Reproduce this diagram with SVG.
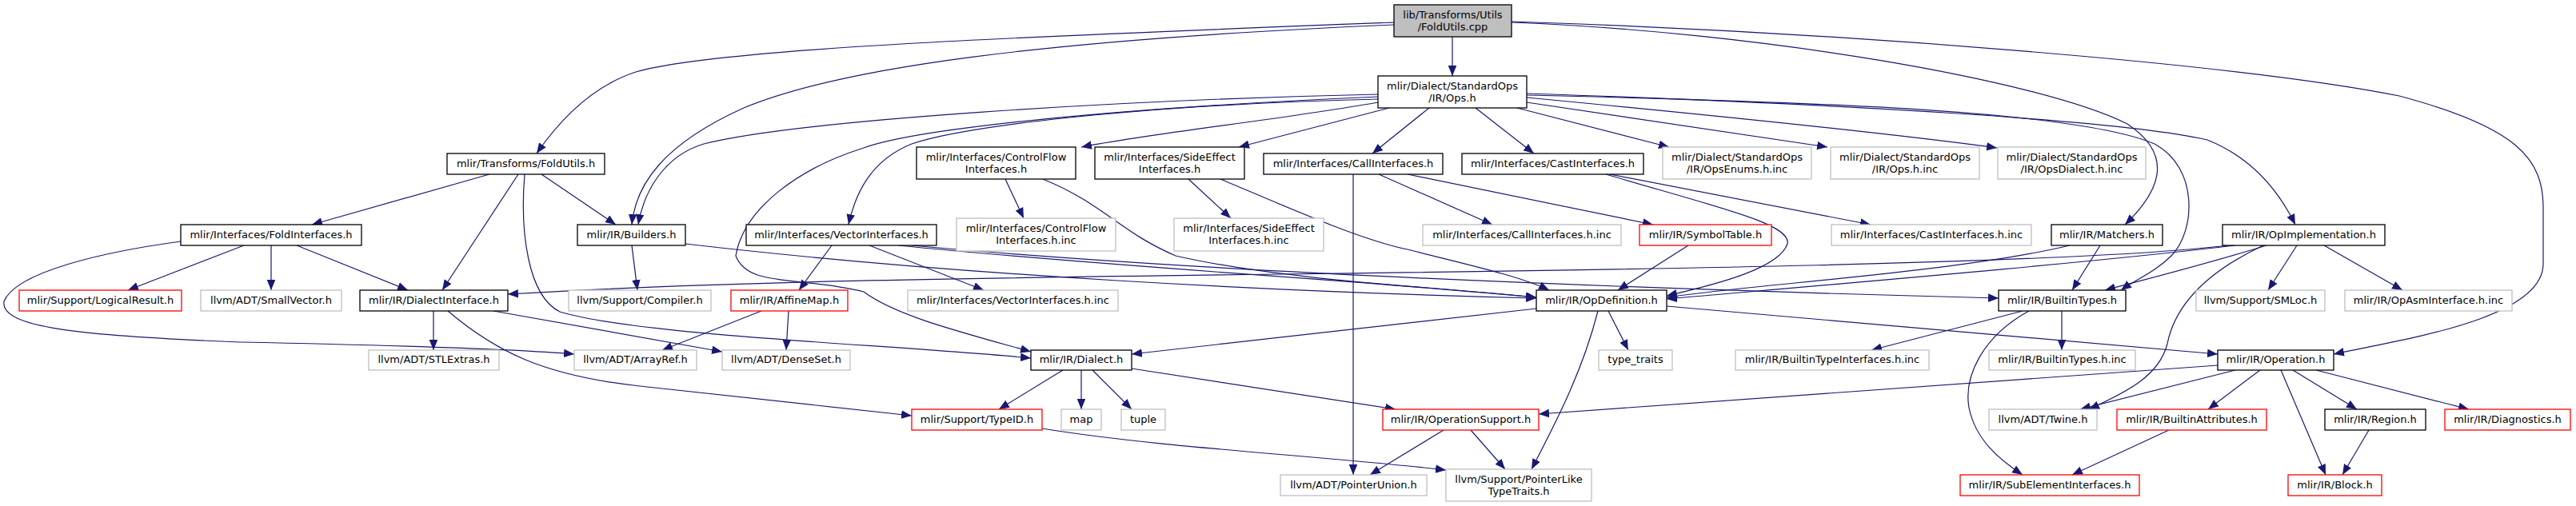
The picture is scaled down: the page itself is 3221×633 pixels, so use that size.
<svg xmlns="http://www.w3.org/2000/svg" width="3221" height="633" viewBox="0 0 3221 633">
<defs>
<marker id="a" markerWidth="14" markerHeight="11" refX="13" refY="5.3" orient="auto" markerUnits="userSpaceOnUse"><path d="M0,0L13,5.3L0,10.6z" fill="#191970"/></marker>
<style>
.node rect{fill:#fff;stroke:#000;stroke-width:1.3}
.node.g rect{stroke:#bfbfbf}
.node.r rect{stroke:#ff0000}
.node.root rect{fill:#bfbfbf}
.node text{font-family:'DejaVu Sans',sans-serif;font-size:13px;text-anchor:middle;dominant-baseline:central;fill:#000}
#edges path{fill:none;stroke:#191970;stroke-width:1.2;marker-end:url(#a)}
</style>
</defs>
<rect width="3221" height="633" fill="#fff"/>
<g id="edges">
<path d="M1816,46L1816,95"/>
<path d="M1743,28C1300,45 900,60 795,90C740,108 700,150 671,192"/>
<path d="M1743,31C1300,50 1050,85 930,135C830,180 795,230 790,281"/>
<path d="M1723,118C1400,125 1000,150 880,180C830,195 805,240 798,281"/>
<path d="M1723,121C1400,135 1150,160 1080,185C1000,210 930,260 920,320C935,360 1000,345 1080,365C1120,395 1200,415 1289,440"/>
<path d="M1723,124C1400,132 1200,160 1140,180C1090,200 1070,240 1061,281"/>
<path d="M1723,128C1600,150 1450,165 1352,184"/>
<path d="M1737,135L1549,184"/>
<path d="M1787,135L1716,192"/>
<path d="M1845,135L1918,192"/>
<path d="M1897,135L2087,184"/>
<path d="M1909,128L2285,184"/>
<path d="M1909,122C2150,145 2350,165 2497,185"/>
<path d="M1909,117C2300,130 2650,150 2760,175C2810,195 2845,230 2870,281"/>
<path d="M1909,119C2300,128 2600,140 2694,180C2750,210 2745,290 2715,320C2695,340 2670,350 2652,363"/>
<path d="M1890,28C2200,40 2550,100 2660,155C2720,195 2700,240 2657,281"/>
<path d="M1890,27C2300,40 2800,80 3000,120C3150,160 3180,200 3180,260L3180,330C3180,400 3000,425 2918,443"/>
<path d="M612,218L390,281"/>
<path d="M677,218L770,281"/>
<path d="M648,218L553,363"/>
<path d="M656,218C650,290 660,370 700,390C800,420 1100,430 1289,448"/>
<path d="M305,307L160,363"/>
<path d="M339,307L339,363"/>
<path d="M371,307L510,363"/>
<path d="M226,302C130,315 20,340 5,377C0,410 100,420 300,428C500,432 650,437 718,443"/>
<path d="M790,307L797,363"/>
<path d="M857,305C1200,345 1600,365 1921,373"/>
<path d="M1040,307L999,363"/>
<path d="M1087,307L1230,363"/>
<path d="M1123,307C1400,335 1700,350 1921,372"/>
<path d="M1140,307C1500,340 2000,360 2499,373"/>
<path d="M1257,224L1280,273"/>
<path d="M1304,224C1380,255 1400,290 1470,320C1600,350 1800,360 1921,372"/>
<path d="M1486,224L1539,273"/>
<path d="M1526,224C1600,255 1700,300 1760,312C1830,330 1900,345 1937,363"/>
<path d="M1724,218L1866,281"/>
<path d="M1760,218L2067,281"/>
<path d="M1692,218L1692,594"/>
<path d="M2013,218L2339,281"/>
<path d="M2008,218C2150,260 2240,280 2235,305C2225,335 2150,355 2084,370"/>
<path d="M2111,307L2023,363"/>
<path d="M2588,307C2450,340 2200,355 2084,372"/>
<path d="M2626,307L2591,363"/>
<path d="M2795,307C2600,330 2300,355 2084,374"/>
<path d="M2785,307C2600,330 2000,338 1600,343C1200,348 900,352 635,368"/>
<path d="M2834,307C2760,330 2700,345 2632,363"/>
<path d="M2830,307C2760,340 2720,380 2710,430C2700,470 2660,490 2612,512"/>
<path d="M2872,307L2836,363"/>
<path d="M2906,307L3004,363"/>
<path d="M952,389L828,438"/>
<path d="M986,389L983,438"/>
<path d="M542,389L542,438"/>
<path d="M560,389C620,440 680,470 800,483C950,500 1050,510 1140,520"/>
<path d="M617,389L903,440"/>
<path d="M1921,386L1415,443"/>
<path d="M2084,383L2773,443"/>
<path d="M2011,389L2036,438"/>
<path d="M1998,389C1980,460 1950,520 1915,587"/>
<path d="M2578,389L2578,438"/>
<path d="M2529,389L2340,438"/>
<path d="M2537,389C2480,420 2455,470 2462,510C2470,550 2500,575 2529,594"/>
<path d="M1329,463L1249,512"/>
<path d="M1352,463L1352,512"/>
<path d="M1366,463L1415,512"/>
<path d="M1415,461L1745,512"/>
<path d="M1303,536C1450,560 1650,570 1808,588"/>
<path d="M1805,538L1713,594"/>
<path d="M1839,538L1882,587"/>
<path d="M2773,457L1924,518"/>
<path d="M2795,463L2601,512"/>
<path d="M2826,463L2761,512"/>
<path d="M2852,463L2908,594"/>
<path d="M2867,463L2947,512"/>
<path d="M2896,463L3087,512"/>
<path d="M2712,538L2591,594"/>
<path d="M2962,538L2929,594"/>
</g>
<g id="n_root" class="node root"><rect x="1743" y="6" width="147" height="40"/><text x="1816.5" y="18">lib/Transforms/Utils</text><text x="1816.5" y="33">/FoldUtils.cpp</text></g>
<g id="n_ops" class="node"><rect x="1723" y="95" width="186" height="40"/><text x="1816" y="107">mlir/Dialect/StandardOps</text><text x="1816" y="122">/IR/Ops.h</text></g>
<g id="n_foldutils" class="node"><rect x="559" y="192" width="197" height="26"/><text x="657.5" y="204">mlir/Transforms/FoldUtils.h</text></g>
<g id="n_callif" class="node"><rect x="1580" y="192" width="224" height="26"/><text x="1692" y="204">mlir/Interfaces/CallInterfaces.h</text></g>
<g id="n_castif" class="node"><rect x="1828" y="192" width="227" height="26"/><text x="1941.5" y="204">mlir/Interfaces/CastInterfaces.h</text></g>
<g id="n_cflow" class="node"><rect x="1146" y="184" width="199" height="40"/><text x="1245.5" y="196">mlir/Interfaces/ControlFlow</text><text x="1245.5" y="211">Interfaces.h</text></g>
<g id="n_sideeff" class="node"><rect x="1369" y="184" width="187" height="40"/><text x="1462.5" y="196">mlir/Interfaces/SideEffect</text><text x="1462.5" y="211">Interfaces.h</text></g>
<g id="n_opsenums" class="node g"><rect x="2079" y="184" width="186" height="40"/><text x="2172" y="196">mlir/Dialect/StandardOps</text><text x="2172" y="211">/IR/OpsEnums.h.inc</text></g>
<g id="n_opsinc" class="node g"><rect x="2289" y="184" width="186" height="40"/><text x="2382" y="196">mlir/Dialect/StandardOps</text><text x="2382" y="211">/IR/Ops.h.inc</text></g>
<g id="n_opsdialect" class="node g"><rect x="2498" y="184" width="185" height="40"/><text x="2590.5" y="196">mlir/Dialect/StandardOps</text><text x="2590.5" y="211">/IR/OpsDialect.h.inc</text></g>
<g id="n_foldif" class="node"><rect x="226" y="281" width="226" height="26"/><text x="339" y="293">mlir/Interfaces/FoldInterfaces.h</text></g>
<g id="n_builders" class="node"><rect x="722" y="281" width="135" height="26"/><text x="789.5" y="293">mlir/IR/Builders.h</text></g>
<g id="n_vectorif" class="node"><rect x="933" y="281" width="238" height="26"/><text x="1052" y="293">mlir/Interfaces/VectorInterfaces.h</text></g>
<g id="n_cflowinc" class="node g"><rect x="1196" y="273" width="199" height="41"/><text x="1295.5" y="285.5">mlir/Interfaces/ControlFlow</text><text x="1295.5" y="300.5">Interfaces.h.inc</text></g>
<g id="n_sideeffinc" class="node g"><rect x="1468" y="273" width="187" height="41"/><text x="1561.5" y="285.5">mlir/Interfaces/SideEffect</text><text x="1561.5" y="300.5">Interfaces.h.inc</text></g>
<g id="n_callifinc" class="node g"><rect x="1779" y="281" width="248" height="26"/><text x="1903" y="293">mlir/Interfaces/CallInterfaces.h.inc</text></g>
<g id="n_symtab" class="node r"><rect x="2050" y="281" width="165" height="26"/><text x="2132.5" y="293">mlir/IR/SymbolTable.h</text></g>
<g id="n_castifinc" class="node g"><rect x="2290" y="281" width="250" height="26"/><text x="2415" y="293">mlir/Interfaces/CastInterfaces.h.inc</text></g>
<g id="n_matchers" class="node"><rect x="2565" y="281" width="139" height="26"/><text x="2634.5" y="293">mlir/IR/Matchers.h</text></g>
<g id="n_opimpl" class="node"><rect x="2779" y="281" width="203" height="26"/><text x="2880.5" y="293">mlir/IR/OpImplementation.h</text></g>
<g id="n_logres" class="node r"><rect x="24" y="363" width="203" height="26"/><text x="125.5" y="375">mlir/Support/LogicalResult.h</text></g>
<g id="n_smallvec" class="node g"><rect x="251" y="363" width="176" height="26"/><text x="339" y="375">llvm/ADT/SmallVector.h</text></g>
<g id="n_dialif" class="node"><rect x="450" y="363" width="185" height="26"/><text x="542.5" y="375">mlir/IR/DialectInterface.h</text></g>
<g id="n_compiler" class="node g"><rect x="711" y="363" width="178" height="26"/><text x="800" y="375">llvm/Support/Compiler.h</text></g>
<g id="n_affine" class="node r"><rect x="914" y="363" width="146" height="26"/><text x="987" y="375">mlir/IR/AffineMap.h</text></g>
<g id="n_vecifinc" class="node g"><rect x="1135" y="363" width="263" height="26"/><text x="1266.5" y="375">mlir/Interfaces/VectorInterfaces.h.inc</text></g>
<g id="n_opdef" class="node"><rect x="1921" y="363" width="163" height="26"/><text x="2002.5" y="375">mlir/IR/OpDefinition.h</text></g>
<g id="n_btypes" class="node"><rect x="2499" y="363" width="159" height="26"/><text x="2578.5" y="375">mlir/IR/BuiltinTypes.h</text></g>
<g id="n_smloc" class="node g"><rect x="2746" y="363" width="161" height="26"/><text x="2826.5" y="375">llvm/Support/SMLoc.h</text></g>
<g id="n_opasm" class="node g"><rect x="2932" y="363" width="209" height="26"/><text x="3036.5" y="375">mlir/IR/OpAsmInterface.h.inc</text></g>
<g id="n_stlextras" class="node g"><rect x="461" y="438" width="163" height="25"/><text x="542.5" y="449.5">llvm/ADT/STLExtras.h</text></g>
<g id="n_arrayref" class="node g"><rect x="718" y="438" width="153" height="25"/><text x="794.5" y="449.5">llvm/ADT/ArrayRef.h</text></g>
<g id="n_denseset" class="node g"><rect x="903" y="438" width="160" height="25"/><text x="983" y="449.5">llvm/ADT/DenseSet.h</text></g>
<g id="n_dialect" class="node"><rect x="1289" y="438" width="126" height="25"/><text x="1352" y="449.5">mlir/IR/Dialect.h</text></g>
<g id="n_typetraits" class="node g"><rect x="1999" y="438" width="92" height="25"/><text x="2045" y="449.5">type_traits</text></g>
<g id="n_btifinc" class="node g"><rect x="2170" y="438" width="242" height="25"/><text x="2291" y="449.5">mlir/IR/BuiltinTypeInterfaces.h.inc</text></g>
<g id="n_btinc" class="node g"><rect x="2487" y="438" width="183" height="25"/><text x="2578.5" y="449.5">mlir/IR/BuiltinTypes.h.inc</text></g>
<g id="n_operation" class="node"><rect x="2773" y="438" width="145" height="25"/><text x="2845.5" y="449.5">mlir/IR/Operation.h</text></g>
<g id="n_typeid" class="node r"><rect x="1140" y="512" width="163" height="26"/><text x="1221.5" y="524">mlir/Support/TypeID.h</text></g>
<g id="n_map" class="node g"><rect x="1327" y="512" width="50" height="26"/><text x="1352" y="524">map</text></g>
<g id="n_tuple" class="node g"><rect x="1402" y="512" width="55" height="26"/><text x="1429.5" y="524">tuple</text></g>
<g id="n_opsupport" class="node r"><rect x="1729" y="512" width="195" height="26"/><text x="1826.5" y="524">mlir/IR/OperationSupport.h</text></g>
<g id="n_twine" class="node g"><rect x="2487" y="512" width="135" height="26"/><text x="2554.5" y="524">llvm/ADT/Twine.h</text></g>
<g id="n_battr" class="node r"><rect x="2647" y="512" width="187" height="26"/><text x="2740.5" y="524">mlir/IR/BuiltinAttributes.h</text></g>
<g id="n_region" class="node"><rect x="2907" y="512" width="126" height="26"/><text x="2970" y="524">mlir/IR/Region.h</text></g>
<g id="n_diag" class="node r"><rect x="3057" y="512" width="157" height="26"/><text x="3135.5" y="524">mlir/IR/Diagnostics.h</text></g>
<g id="n_punion" class="node g"><rect x="1601" y="594" width="183" height="26"/><text x="1692.5" y="606">llvm/ADT/PointerUnion.h</text></g>
<g id="n_ptrlike" class="node g"><rect x="1808" y="587" width="182" height="40"/><text x="1899" y="599">llvm/Support/PointerLike</text><text x="1899" y="614">TypeTraits.h</text></g>
<g id="n_subelem" class="node r"><rect x="2451" y="594" width="224" height="26"/><text x="2563" y="606">mlir/IR/SubElementInterfaces.h</text></g>
<g id="n_block" class="node r"><rect x="2861" y="594" width="117" height="26"/><text x="2919.5" y="606">mlir/IR/Block.h</text></g>
</svg>
